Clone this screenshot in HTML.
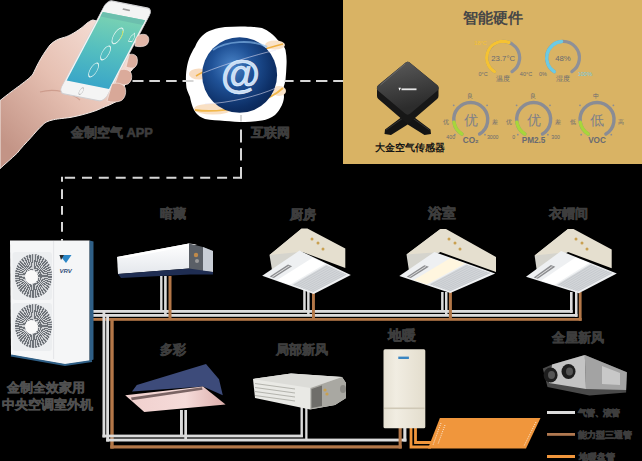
<!DOCTYPE html>
<html><head><meta charset="utf-8">
<style>
html,body{margin:0;padding:0;background:#000;width:642px;height:461px;overflow:hidden}
body{position:relative;font-family:"Liberation Sans",sans-serif}
svg{position:absolute;left:0;top:0}
.t{position:absolute;white-space:nowrap;font-weight:bold;color:#3d3d3d;line-height:1;-webkit-text-stroke:0.6px #3d3d3d}
.o{color:#505050;-webkit-text-stroke:0.45px #505050}
.fan{position:absolute;border-radius:50%;background:repeating-conic-gradient(from 0deg,#cfd1d4 0deg 3.5deg,#6e7379 3.5deg 8deg)}
.fan::after{content:"";position:absolute;left:44%;top:52%;width:13px;height:14px;margin:-7px 0 0 -6.5px;border-radius:50%;background:#f9f9f9}
</style></head>
<body>
<svg width="642" height="461" viewBox="0 0 642 461" xmlns="http://www.w3.org/2000/svg">
<defs>
  <linearGradient id="screen" x1="0" y1="0" x2="0" y2="1">
    <stop offset="0" stop-color="#7bd3b2"/><stop offset="0.5" stop-color="#55bfbf"/><stop offset="1" stop-color="#3aa6c8"/>
  </linearGradient>
  <linearGradient id="skin" x1="0.9" y1="0.1" x2="0.1" y2="0.9">
    <stop offset="0" stop-color="#f6e0d8"/><stop offset="0.5" stop-color="#e6c0b2"/><stop offset="1" stop-color="#c39486"/>
  </linearGradient>
  <radialGradient id="sphere" cx="0.4" cy="0.38" r="0.7">
    <stop offset="0" stop-color="#4a84c8"/><stop offset="0.4" stop-color="#1f5196"/><stop offset="0.8" stop-color="#0d2f66"/><stop offset="1" stop-color="#0a2452"/>
  </radialGradient>
  <linearGradient id="duct" x1="0" y1="0" x2="0" y2="1">
    <stop offset="0" stop-color="#ffffff"/><stop offset="1" stop-color="#e4e7ec"/>
  </linearGradient>
  <linearGradient id="cass" x1="0" y1="0" x2="1" y2="0.3">
    <stop offset="0" stop-color="#e9e9ea"/><stop offset="0.35" stop-color="#ffffff"/><stop offset="0.55" stop-color="#e2e4e7"/><stop offset="1" stop-color="#c4c8cd"/>
  </linearGradient>
  <linearGradient id="pink" x1="0" y1="0" x2="1" y2="0">
    <stop offset="0" stop-color="#f0cfcd"/><stop offset="0.6" stop-color="#f5dbd9"/><stop offset="1" stop-color="#dcaeab"/>
  </linearGradient>
  <linearGradient id="boiler" x1="0" y1="0" x2="1" y2="0">
    <stop offset="0" stop-color="#e6e1d3"/><stop offset="0.3" stop-color="#f1ede2"/><stop offset="1" stop-color="#e3ddcd"/>
  </linearGradient>
</defs>

<!-- tan panel -->
<rect x="343" y="0" width="299" height="164" fill="#d9b364"/>

<!-- hand -->
<path d="M0,100.6 C8,94 15,89 19.5,85.7 C27,80 31,77 33,74 C36,68 40,58 50,45 C54,41 58,39 62,38 C68,36.5 73,34 82,27.5 C87,23 90,20.5 93,20 L100,22 L120,50 L134.8,57.4 L136,65 L129.8,72.4 L131,79.9 L124.8,84.9 L122.3,89.9 L123.5,97.4 L117.3,101.1 L109.8,104.8 C104,107 99,109.5 94.8,111 C86,114 78,116 70,117.5 C62,118.5 56,119 52,120.1 C48,121 45,122.5 43.4,124.3 C38,129 35,133 31.2,137.3 C26,143 21,148 17.3,153 C11,159 5,164 0,168.6 Z" fill="url(#skin)" stroke="#f4ece8" stroke-width="1"/>
<path d="M40,92 C55,88 70,92 80,100" stroke="#c08878" stroke-width="1.2" fill="none" opacity="0.6"/>
<!-- phone -->
<g transform="matrix(0.455,0.091,-0.488,0.927,107.3,0)">
  <rect x="0" y="0" width="100" height="100" rx="11" ry="7" fill="#f4f4f4" stroke="#cfcfd2" stroke-width="1.2"/>
  <rect x="3.5" y="12.5" width="93" height="74" fill="url(#screen)"/>
  <rect x="3.5" y="12.5" width="93" height="5" fill="#6cbfae"/>
  <circle cx="43.5" cy="94" r="3.6" fill="none" stroke="#b8b8b8" stroke-width="1"/>
  <rect x="40" y="5" width="16" height="1.6" rx="0.8" fill="#9a9a9a"/>
  <circle cx="58" cy="33" r="8.5" fill="none" stroke="#eaf7f3" stroke-width="1.2"/>
  <circle cx="52" cy="52" r="7.5" fill="none" stroke="#eaf7f3" stroke-width="1.2"/>
  <circle cx="46" cy="71" r="7.5" fill="none" stroke="#eaf7f3" stroke-width="1.2"/>
  <path d="M63,27 A8.5,8.5 0 0 1 66,36" stroke="#c8e04a" stroke-width="1.4" fill="none"/>
  <path d="M85,31 l4,-4 l4,4 v5 h-8 z" fill="none" stroke="#eaf7f3" stroke-width="1"/>
</g>
<!-- fingers over phone right edge -->
<g stroke="#f3e7e2" stroke-width="0.7">
  <path d="M136,38 C138,34.5 143,33.5 146.5,35 C149.5,37 149.5,42 146.5,45 C143.5,47 139,47 135,46 Z" fill="#e2b7a8"/>
  <path d="M129,55 C131,53.5 135,54 136.8,57 C138,61 137.5,65 134.5,67.5 C132,68.5 129,68 126,67 Z" fill="#dcae9e"/>
  <path d="M120,70 C124,68.5 129,69.5 131,73 C132.5,77 131.5,81.5 128,84 C124,85.5 119,85 115,83.5 Z" fill="#dbab9b"/>
  <path d="M112,84 C117,82 123,83.5 125,87.5 C126.5,92 125.5,97.5 121.5,100.5 C117,102.5 111,102.5 107,101 Z" fill="#d8a898"/>
</g>
<!-- globe halo -->
<path d="M195,47 C197,42 199,39 202,36 C205,33 208,31 212,30 C217,28 221,27.5 225,27 C232,26.5 239,26.3 245,26.5 C252,26.8 258,27 262,28 C266,29.5 268,31 270,32.5 C274,35.5 277,39 280,42.5 C283,45 285,47.5 285.5,50 C286.5,55 286.8,60 286.5,65 C286.3,70 286,75 285.5,80 C285,83 284,85.5 283.5,88 C283.4,91 284,94 284,97 C283.8,100 283,102.5 282,105 C280,109 278,112 275,115 C271,118 267,119.5 262,120.5 C256,121.5 251,122 245,122 C238,122 231,121.5 225,121 C218,120.5 211,120 205,119 C201,117.5 198,115.5 196,113 C194,110.5 193,108 192,105 C191,102 190.5,99.5 190,97 C188.8,94 187.2,91 186.5,88 C186,84 185.8,79 186,75 C186.3,70 187,66 188,62 C188.8,59 189.8,56.5 191,54 C192.3,51.5 193.5,49 195,47 Z" fill="#ffffff"/>
<!-- swirl glows -->
<ellipse cx="199" cy="74" rx="10" ry="5.5" fill="#f8dcc0"/>
<ellipse cx="213" cy="109" rx="19" ry="5.5" fill="#f9e0c4"/>
<ellipse cx="275" cy="45" rx="10" ry="4.5" fill="#f9e2c8"/>
<ellipse cx="279" cy="91" rx="7" ry="5" fill="#f9e2c8"/>
<path d="M196,76 C212,66 258,50 283,44" stroke="#f0b040" stroke-width="1.6" fill="none"/>
<path d="M195,110 C222,114 266,104 283,88" stroke="#f2b84a" stroke-width="1.8" fill="none"/>
<ellipse cx="239.6" cy="75" rx="37.5" ry="37.8" fill="url(#sphere)"/>
<path d="M213,50 C226,41 252,39 267,47" stroke="#86b8ea" stroke-width="2" fill="none" opacity="0.65"/>
<path d="M203,73 C225,64 255,55 276,50" stroke="#e6e2f4" stroke-width="0.7" fill="none" opacity="0.8"/>
<path d="M205,104 C230,103 258,96 276,88" stroke="#e6e2f4" stroke-width="0.7" fill="none" opacity="0.8"/>
<text x="240.5" y="87.5" font-family="Liberation Sans" font-size="40" font-weight="bold" fill="#c8def5" text-anchor="middle" stroke="#e8f3ff" stroke-width="0.6">@</text>

<!-- dashed lines -->
<g fill="#d6d6d6">
  <path d="M132.5,80h11v2h-11zM149.3,80h10.6v2h-10.6zM166.1,80h10.6v2h-10.6zM182.5,80h11v2h-11z"/>
  <path d="M284.4,80h9.2v2h-9.2zM300.2,80h10.3v2h-10.3zM316,80h11.4v2h-11.4zM333.2,80h10v2h-10z"/>
  <path d="M240,115h2v6.4h-2zM240,129.5h2v13h-2zM240,148.2h2v12.2h-2zM240,166.9h2v11.4h-2z"/>
  <path d="M64.8,176.8h10.3v2h-10.3zM82,176.8h10v2h-10zM98.8,176.8h10v2h-10zM115.7,176.8h10v2h-10zM132.6,176.8h10v2h-10zM149.5,176.8h10v2h-10zM166.4,176.8h10v2h-10zM183.3,176.8h10v2h-10zM200.2,176.8h10v2h-10zM217.1,176.8h10v2h-10zM233,176.8h9v2h-9z"/>
  <path d="M61,176.8h2v5h-2zM61,189.2h2v9.7h-2zM61,206.1h2v8.6h-2zM61,222h2v9.8h-2zM61,239h2v1.7h-2z"/>
</g>

<!-- main pipes -->
<g>
  <rect x="91" y="310" width="481.6" height="2.8" fill="#dcdcdc"/>
  <rect x="91" y="314" width="486.5" height="2.8" fill="#dcdcdc"/>
  <rect x="91" y="318" width="490.6" height="2.8" fill="#b37748"/>
  <!-- drops row 1 -->
  <rect x="160.1" y="276" width="2.4" height="36" fill="#dcdcdc"/>
  <rect x="164.1" y="276" width="2.6" height="40" fill="#dcdcdc"/>
  <rect x="168.5" y="276" width="3" height="44" fill="#b37748"/>
  <rect x="303.2" y="290" width="2.5" height="22" fill="#dcdcdc"/>
  <rect x="307.1" y="290" width="2.5" height="26" fill="#dcdcdc"/>
  <rect x="312" y="290" width="2.9" height="30" fill="#b37748"/>
  <rect x="441.1" y="292" width="2.5" height="20" fill="#dcdcdc"/>
  <rect x="445" y="292" width="2.5" height="24" fill="#dcdcdc"/>
  <rect x="448.9" y="292" width="3" height="28" fill="#b37748"/>
  <rect x="570" y="292" width="2.6" height="20.8" fill="#dcdcdc"/>
  <rect x="575" y="292" width="2.5" height="24.8" fill="#dcdcdc"/>
  <rect x="578.8" y="292" width="2.8" height="28.8" fill="#b37748"/>
  <!-- down to row 2 -->
  <rect x="102.5" y="312" width="2.8" height="125.4" fill="#dcdcdc"/>
  <rect x="106.2" y="316" width="2.8" height="125.5" fill="#dcdcdc"/>
  <rect x="110.3" y="320" width="3.4" height="128.6" fill="#b37748"/>
  <!-- bottom horizontals -->
  <rect x="102.5" y="434.6" width="200.4" height="2.8" fill="#dcdcdc"/>
  <rect x="106.2" y="438.6" width="300.2" height="2.9" fill="#dcdcdc"/>
  <rect x="110.3" y="445.3" width="291.4" height="3.2" fill="#b37748"/>
  <rect x="180" y="410" width="2.9" height="27" fill="#dcdcdc"/>
  <rect x="184.3" y="410" width="2.7" height="31" fill="#dcdcdc"/>
  <rect x="300.5" y="405" width="2.4" height="32" fill="#dcdcdc"/>
  <rect x="305.2" y="405" width="2.3" height="36" fill="#dcdcdc"/>
  <rect x="398.6" y="426" width="3.1" height="22.5" fill="#b37748"/>
  <rect x="403.3" y="426" width="3.1" height="15.5" fill="#dcdcdc"/>
  <!-- orange floor heating pipes -->
  <path d="M411,426 V447 H431 M415.5,426 V442.5 H433" stroke="#f0963c" stroke-width="2.8" fill="none"/>
</g>

<!-- outdoor unit -->
<g>
  <polygon points="10,240.6 89.6,240.6 89.6,361 65,364.5 11,355" fill="#f5f6f7"/>
  <polygon points="89.6,240.6 93.5,241.5 93.5,359.5 89.6,361" fill="#2f5f86"/>
  <polyline points="11,355.5 65,365 92,361" stroke="#2f5f86" stroke-width="2" fill="none"/>
  <rect x="53.3" y="241" width="0.8" height="118" fill="#e0e2e4"/>
  <rect x="12.5" y="252" width="39.5" height="48" rx="3" fill="#eceef0"/>
  <rect x="12.5" y="303" width="39.5" height="48" rx="3" fill="#eceef0"/>
  <polygon points="59.5,255 71.5,255 66,263" fill="#2b86c6"/>
  <polygon points="59.5,255 64,255 61,260" fill="#2a2a2a"/>
  <text x="59.5" y="273" font-family="Liberation Sans" font-size="6" font-weight="bold" font-style="italic" fill="#33507a">VRV</text>
</g>

<!-- ducted unit (暗藏) -->
<g>
  <polygon points="117,257 189,243.5 189,268.5 118,274" fill="url(#duct)"/>
  <polygon points="117,257 189,243.5 197,244.5 126,258" fill="#ffffff"/>
  <polygon points="189,243.5 203,247 213,251 213,272 189,270" fill="#5a5f66"/>
  <polygon points="203,247 213,251 213,272 203,271" fill="#c9ced6"/>
  <circle cx="196" cy="255" r="2.2" fill="#c08a4a"/><circle cx="197" cy="261" r="2" fill="#9a9a9a"/>
  <polygon points="118,274 189,268.5 213,272 213,274.5 190,274.5 121,278" fill="#1f2d52"/>
</g>

<!-- cassettes -->
<polygon points="269.5,255 301.7,228.6 301.7,251.7 272,270" fill="#d5d4cd"/>
<polygon points="269.5,255 301.7,228.6 307.4,228.6 345.3,248.4 345.3,268.1 301.7,251.7" fill="#e5dfcf"/>
<polygon points="262.2,275.8 299.5,250.6 350.8,275 313.7,294" fill="#eef0f2"/>
<polygon points="276.8,280.2 312.6,257.7 325.4,263.7 289.7,284.8" fill="#ffffff"/>
<polygon points="292.4,284.7 326.2,264.9 346.8,274.6 313.0,292.1" fill="#d3d6d9"/>
<line x1="293.9" y1="285.3" x2="327.8" y2="265.6" stroke="#b9bdc2" stroke-width="0.5"/>
<line x1="296.2" y1="286.1" x2="330.1" y2="266.7" stroke="#b9bdc2" stroke-width="0.5"/>
<line x1="298.6" y1="286.9" x2="332.4" y2="267.8" stroke="#b9bdc2" stroke-width="0.5"/>
<line x1="300.9" y1="287.8" x2="334.7" y2="268.9" stroke="#b9bdc2" stroke-width="0.5"/>
<line x1="303.2" y1="288.6" x2="337.0" y2="270.0" stroke="#b9bdc2" stroke-width="0.5"/>
<line x1="305.5" y1="289.4" x2="339.3" y2="271.1" stroke="#b9bdc2" stroke-width="0.5"/>
<line x1="307.8" y1="290.3" x2="341.6" y2="272.1" stroke="#b9bdc2" stroke-width="0.5"/>
<line x1="310.1" y1="291.1" x2="343.9" y2="273.2" stroke="#b9bdc2" stroke-width="0.5"/>
<line x1="312.5" y1="291.9" x2="346.2" y2="274.3" stroke="#b9bdc2" stroke-width="0.5"/>
<polygon points="269.7,276.6 288.0,264.6 292.1,266.3 273.8,278.1" fill="#8c8d90"/>
<polygon points="272.0,276.6 288.8,265.7 289.8,266.1 273.0,277.0" fill="#e8e8e8"/>
<polygon points="406.5,254.6 440.4,228.9 440.4,252 409,271" fill="#d5d4cd"/>
<polygon points="406.5,254.6 440.4,228.9 446,228.9 496,257 496,272 440.4,252" fill="#e5dfcf"/>
<polygon points="399.3,276 434.4,252 495.2,273.4 450.3,293" fill="#eef0f2"/>
<polygon points="413.8,280.1 450.1,258.2 465.2,263.6 426.6,284.4" fill="#fff6df"/>
<polygon points="429.4,284.3 466.2,264.6 490.4,273.1 450.0,291.2" fill="#d3d6d9"/>
<line x1="430.9" y1="284.8" x2="468.0" y2="265.3" stroke="#b9bdc2" stroke-width="0.5"/>
<line x1="433.2" y1="285.6" x2="470.8" y2="266.2" stroke="#b9bdc2" stroke-width="0.5"/>
<line x1="435.6" y1="286.3" x2="473.5" y2="267.2" stroke="#b9bdc2" stroke-width="0.5"/>
<line x1="437.9" y1="287.1" x2="476.2" y2="268.1" stroke="#b9bdc2" stroke-width="0.5"/>
<line x1="440.2" y1="287.9" x2="478.9" y2="269.1" stroke="#b9bdc2" stroke-width="0.5"/>
<line x1="442.5" y1="288.7" x2="481.6" y2="270.0" stroke="#b9bdc2" stroke-width="0.5"/>
<line x1="444.8" y1="289.4" x2="484.3" y2="271.0" stroke="#b9bdc2" stroke-width="0.5"/>
<line x1="447.1" y1="290.2" x2="487.1" y2="272.0" stroke="#b9bdc2" stroke-width="0.5"/>
<line x1="449.5" y1="291.0" x2="489.8" y2="272.9" stroke="#b9bdc2" stroke-width="0.5"/>
<polygon points="406.7,276.7 424.4,265.2 428.9,266.7 410.8,278.1" fill="#8c8d90"/>
<polygon points="409.0,276.7 425.4,266.2 426.5,266.6 410.0,277.1" fill="#e8e8e8"/>
<polygon points="534.6,255.4 568,228.9 568,252 537,272" fill="#d5d4cd"/>
<polygon points="534.6,255.4 568,228.9 573.5,228.9 611.7,249.4 611.7,268.3 568,252" fill="#e5dfcf"/>
<polygon points="526,276.8 561.1,251.1 616.8,273.4 578.8,293.3" fill="#eef0f2"/>
<polygon points="541.0,280.8 575.4,257.6 589.3,263.1 554.2,284.9" fill="#ffffff"/>
<polygon points="556.9,284.7 590.3,264.3 612.5,273.1 578.1,291.5" fill="#d3d6d9"/>
<line x1="558.5" y1="285.3" x2="591.9" y2="264.9" stroke="#b9bdc2" stroke-width="0.5"/>
<line x1="560.8" y1="286.0" x2="594.4" y2="265.9" stroke="#b9bdc2" stroke-width="0.5"/>
<line x1="563.2" y1="286.8" x2="596.9" y2="266.9" stroke="#b9bdc2" stroke-width="0.5"/>
<line x1="565.6" y1="287.5" x2="599.4" y2="267.9" stroke="#b9bdc2" stroke-width="0.5"/>
<line x1="568.0" y1="288.3" x2="601.9" y2="268.9" stroke="#b9bdc2" stroke-width="0.5"/>
<line x1="570.4" y1="289.0" x2="604.4" y2="269.9" stroke="#b9bdc2" stroke-width="0.5"/>
<line x1="572.8" y1="289.8" x2="606.9" y2="270.9" stroke="#b9bdc2" stroke-width="0.5"/>
<line x1="575.1" y1="290.5" x2="609.4" y2="271.9" stroke="#b9bdc2" stroke-width="0.5"/>
<line x1="577.5" y1="291.3" x2="611.9" y2="272.9" stroke="#b9bdc2" stroke-width="0.5"/>
<polygon points="533.6,277.4 550.9,265.1 555.3,266.7 537.8,278.7" fill="#8c8d90"/>
<polygon points="535.9,277.4 551.9,266.2 552.9,266.6 536.9,277.7" fill="#e8e8e8"/>
<circle cx="312" cy="239" r="1.5" fill="#c9a050"/>
<circle cx="318" cy="243" r="1.5" fill="#c9a050"/>
<circle cx="323" cy="249" r="1.5" fill="#c9a050"/>
<circle cx="449" cy="239" r="1.5" fill="#c9a050"/>
<circle cx="455" cy="243" r="1.5" fill="#c9a050"/>
<circle cx="460" cy="249" r="1.5" fill="#c9a050"/>
<circle cx="576" cy="239" r="1.5" fill="#c9a050"/>
<circle cx="582" cy="243" r="1.5" fill="#c9a050"/>
<circle cx="587" cy="249" r="1.5" fill="#c9a050"/>
<!-- pink cassette (多彩) -->
<g>
  <polygon points="132,391.4 136.8,384.9 206,364 219,379.3 222.8,395.2 203,386.5" fill="#3d4b7a"/>
  <polygon points="125.2,395.2 203,386.5 225.6,404.5 144.3,412" fill="url(#pink)"/>
  <polygon points="131,397.5 202,387.2 202.5,389.8 131.8,400.3" fill="#7a6464"/>
</g>
<!-- ducted fresh air (局部新风) -->
<g>
  <polygon points="253,379 291,373.5 342,377 346,383 346,398 335,405 310,409.5 255,398" fill="#e9e9e5"/>
  <polygon points="253,379 291,373.5 342,377 310.4,387.9" fill="#dcdcd8"/>
  <polygon points="310.4,387.9 342,377 346,383 346,398 335,405 310.4,409.2" fill="#a9a8a2"/>
  <polygon points="311.5,389 322,385.5 322,406 311.5,408" fill="#6f6e6a"/>
  <g stroke="#b4b4ae" stroke-width="1.1"><line x1="255" y1="383.5" x2="295" y2="389"/><line x1="255" y1="387.5" x2="295" y2="393"/><line x1="255" y1="391.5" x2="295" y2="397"/><line x1="255" y1="395.5" x2="295" y2="401"/></g>
  <circle cx="325" cy="390" r="1.6" fill="#c9a050"/><circle cx="327" cy="394" r="1.6" fill="#c9a050"/>
  <ellipse cx="343" cy="389" rx="3" ry="4" fill="#8a8984"/>
</g>
<!-- boiler (地暖) -->
<g>
  <rect x="383.5" y="349.3" width="41.8" height="79" rx="1.5" fill="url(#boiler)"/>
  <rect x="384" y="407.5" width="40.5" height="1.6" fill="#cfc8b6"/>
  <rect x="398.3" y="356.6" width="10.6" height="2.4" fill="#3a86c2"/>
</g>
<!-- floor heating panel -->
<polygon points="439.9,418.1 540.5,418.1 526,448.6 428,448.6" fill="#f0963c"/>
<g stroke="#fff" stroke-width="0.8" stroke-dasharray="1 1.2" fill="none">
  <line x1="441" y1="423" x2="433" y2="445"/><line x1="445" y1="425" x2="438" y2="444"/>
  <line x1="536" y1="422" x2="524" y2="446"/>
</g>
<!-- ventilation unit (全屋新风) -->
<g>
  <polygon points="542.8,368.4 552.1,364.5 584.8,355.1 626.9,372.3 626.1,392.5 589.5,395.6 547.5,387.1" fill="#4a4a4a"/>
  <polygon points="552.1,364.5 584.8,355.1 586,389 549,383" fill="#c4c4c4"/>
  <polygon points="584.8,355.1 626.9,372.3 626.1,390 586,389" fill="#a3a3a3"/>
  <polygon points="602,366 620,373 620,385 602,384" fill="#c8c8c8"/>
  <ellipse cx="550.6" cy="375" rx="7" ry="7.5" fill="#1e1e1e"/>
  <ellipse cx="568.5" cy="371.5" rx="7" ry="7.5" fill="#1e1e1e"/>
  <ellipse cx="551.5" cy="375" rx="3.5" ry="4" fill="#555"/>
  <ellipse cx="569.5" cy="371.5" rx="3.5" ry="4" fill="#555"/>
</g>

<!-- legend lines -->
<rect x="547" y="411" width="28" height="3" fill="#dcdcdc"/>
<rect x="547" y="433" width="28" height="2.8" fill="#b07850"/>
<rect x="547" y="455" width="28" height="3" fill="#f0963c"/>

<!-- gauges -->
<g>
<path d="M494.5,71.7A16.4,16.4 0 1 1 512.1,71.6" stroke="#8e9098" stroke-width="3.3" fill="none" stroke-linecap="round"/>
<path d="M494.5,71.7A16.4,16.4 0 0 1 508.9,42.4" stroke="#f5c232" stroke-width="3.3" fill="none" stroke-linecap="round"/>
<path d="M554.3,71.7A16.4,16.4 0 1 1 571.9,71.6" stroke="#8e9098" stroke-width="3.3" fill="none" stroke-linecap="round"/>
<path d="M554.3,71.7A16.4,16.4 0 0 1 561.6,41.5" stroke="#6ccbe3" stroke-width="3.3" fill="none" stroke-linecap="round"/>
<path d="M461.9,134.0A17,17 0 1 1 479.6,134.0" stroke="#8a8c94" stroke-width="3.4" fill="none" stroke-linecap="round"/>
<path d="M461.9,134.0A17,17 0 0 1 453.9,122.1" stroke="#a8d63a" stroke-width="3.4" fill="none" stroke-linecap="round"/>
<circle cx="453.7" cy="105.3" r="0.9" fill="#8a8c94"/>
<circle cx="487.1" cy="105.3" r="0.9" fill="#8a8c94"/>
<circle cx="454.9" cy="134.7" r="0.9" fill="#8a8c94"/>
<circle cx="485.0" cy="134.7" r="0.9" fill="#8a8c94"/>
<path d="M524.8,134.0A17,17 0 1 1 542.5,134.0" stroke="#8a8c94" stroke-width="3.4" fill="none" stroke-linecap="round"/>
<path d="M524.8,134.0A17,17 0 0 1 516.8,122.1" stroke="#a8d63a" stroke-width="3.4" fill="none" stroke-linecap="round"/>
<circle cx="516.6" cy="105.3" r="0.9" fill="#8a8c94"/>
<circle cx="550.0" cy="105.3" r="0.9" fill="#8a8c94"/>
<circle cx="517.8" cy="134.7" r="0.9" fill="#8a8c94"/>
<circle cx="547.9" cy="134.7" r="0.9" fill="#8a8c94"/>
<path d="M588.2,134.0A17,17 0 1 1 605.9,134.0" stroke="#8a8c94" stroke-width="3.4" fill="none" stroke-linecap="round"/>
<path d="M588.2,134.0A17,17 0 0 1 580.2,122.1" stroke="#a8d63a" stroke-width="3.4" fill="none" stroke-linecap="round"/>
<circle cx="580.0" cy="105.3" r="0.9" fill="#8a8c94"/>
<circle cx="613.4" cy="105.3" r="0.9" fill="#8a8c94"/>
<circle cx="581.2" cy="134.7" r="0.9" fill="#8a8c94"/>
<circle cx="611.3" cy="134.7" r="0.9" fill="#8a8c94"/>
</g>
<g font-family="Liberation Sans,sans-serif"><text x="503.2" y="61" font-size="7.8" fill="#686a72" font-weight="normal" text-anchor="middle">23.7°C</text><text x="480.5" y="45" font-size="5.5" fill="#f5c232" font-weight="normal" text-anchor="middle">18°C</text><text x="483" y="76" font-size="5.5" fill="#686a72" font-weight="normal" text-anchor="middle">0°C</text><text x="526" y="76" font-size="5.5" fill="#686a72" font-weight="normal" text-anchor="middle">40°C</text><text x="503" y="80.5" font-size="6.5" fill="#686a72" font-weight="normal" text-anchor="middle">温度</text><text x="563" y="61" font-size="7.8" fill="#686a72" font-weight="normal" text-anchor="middle">48%</text><text x="543" y="76" font-size="5.5" fill="#686a72" font-weight="normal" text-anchor="middle">0%</text><text x="585" y="76" font-size="5.5" fill="#6ccbe3" font-weight="normal" text-anchor="middle">100%</text><text x="563" y="80.5" font-size="6.5" fill="#686a72" font-weight="normal" text-anchor="middle">湿度</text><text x="470.7" y="124.5" font-size="13.5" fill="#7e8088" font-weight="normal" text-anchor="middle">优</text><text x="469.7" y="97.5" font-size="5.5" fill="#686a72" font-weight="normal" text-anchor="middle">良</text><text x="446.2" y="124" font-size="5.5" fill="#686a72" font-weight="normal" text-anchor="middle">优</text><text x="494.7" y="124" font-size="5.5" fill="#686a72" font-weight="normal" text-anchor="middle">差</text><text x="450.7" y="138.8" font-size="5.2" fill="#686a72" font-weight="normal" text-anchor="middle">400</text><text x="492.7" y="138.8" font-size="5.2" fill="#686a72" font-weight="normal" text-anchor="middle">3000</text><text x="470.7" y="142.5" font-size="8.2" fill="#686a72" font-weight="bold" text-anchor="middle">CO₂</text><text x="533.6" y="124.5" font-size="13.5" fill="#7e8088" font-weight="normal" text-anchor="middle">优</text><text x="532.6" y="97.5" font-size="5.5" fill="#686a72" font-weight="normal" text-anchor="middle">良</text><text x="509.1" y="124" font-size="5.5" fill="#686a72" font-weight="normal" text-anchor="middle">优</text><text x="557.6" y="124" font-size="5.5" fill="#686a72" font-weight="normal" text-anchor="middle">差</text><text x="513.6" y="138.8" font-size="5.2" fill="#686a72" font-weight="normal" text-anchor="middle">0</text><text x="555.6" y="138.8" font-size="5.2" fill="#686a72" font-weight="normal" text-anchor="middle">300</text><text x="533.6" y="142.5" font-size="8.2" fill="#686a72" font-weight="bold" text-anchor="middle">PM2.5</text><text x="597.0" y="124.5" font-size="13.5" fill="#7e8088" font-weight="normal" text-anchor="middle">低</text><text x="596.0" y="97.5" font-size="5.5" fill="#686a72" font-weight="normal" text-anchor="middle">中</text><text x="572.5" y="124" font-size="5.5" fill="#686a72" font-weight="normal" text-anchor="middle">低</text><text x="621.0" y="124" font-size="5.5" fill="#686a72" font-weight="normal" text-anchor="middle">高</text><text x="597.0" y="142.5" font-size="8.2" fill="#686a72" font-weight="bold" text-anchor="middle">VOC</text></g>

<!-- sensor -->
<g>
  <polygon points="403,116 385,129.5 384.5,134 391,135 407.7,124.5 424.5,135 431,134 430.5,129.5 412.5,116" fill="#141414"/>
  <path d="M386,130 L403,118 M429.5,130 L412.5,118" stroke="#3a3a3a" stroke-width="0.8"/>
  <polygon points="381,88 407.7,66 434.5,88 434.5,96 407.7,119 381,96" fill="#171717" stroke="#171717" stroke-width="8" stroke-linejoin="round"/>
  <linearGradient id="sface" x1="0" y1="0" x2="0.3" y2="1"><stop offset="0" stop-color="#585858"/><stop offset="1" stop-color="#2c2c2c"/></linearGradient>
  <polygon points="381,88 407.7,66 434.5,88 407.7,110.5" fill="url(#sface)" stroke="url(#sface)" stroke-width="8" stroke-linejoin="round"/>
  <path d="M380.5,85 L405,64" stroke="#6e6e6e" stroke-width="0.8"/>
  <polygon points="398.5,87.8 401,87.8 399.5,90.8" fill="#ffffff"/>
  <rect x="401.5" y="88.4" width="15" height="1.8" fill="#e6e6e6"/>
</g>
</svg>
<div class="fan" style="left:14.7px;top:254.2px;width:37.2px;height:43.4px"></div>
<div class="fan" style="left:14.7px;top:304px;width:37.2px;height:43.6px"></div>

<!-- text labels -->
<div class="t" style="left:71px;top:127px;font-size:12.8px">金制空气 APP</div>
<div class="t" style="left:251px;top:125.5px;font-size:13px">互联网</div>
<div class="t" style="left:463px;top:9.5px;font-size:15px;color:#474747;font-weight:bold;-webkit-text-stroke:0">智能硬件</div>
<div class="t" style="left:375px;top:143px;font-size:9.6px;color:#151515;-webkit-text-stroke:0">大金空气传感器</div>
<div class="t" style="left:159.5px;top:207px;font-size:13.3px">暗藏</div>
<div class="t" style="left:290px;top:207.5px;font-size:13px">厨房</div>
<div class="t" style="left:428px;top:207px;font-size:13.5px">浴室</div>
<div class="t" style="left:549px;top:207px;font-size:13.2px">衣帽间</div>
<div class="t" style="left:159.5px;top:343px;font-size:13.3px">多彩</div>
<div class="t" style="left:276px;top:343px;font-size:13.4px">局部新风</div>
<div class="t" style="left:388px;top:328.5px;font-size:13.5px">地暖</div>
<div class="t" style="left:552px;top:331px;font-size:13.3px">全屋新风</div>
<div class="t o" style="left:7px;top:380.5px;font-size:13.3px">金制全效家用</div>
<div class="t o" style="left:2px;top:397.5px;font-size:13px">中央空调室外机</div>
<div class="t" style="left:578px;top:408.5px;font-size:8.6px;letter-spacing:-0.7px">气管、液管</div>
<div class="t" style="left:578px;top:430.5px;font-size:9.3px">能力型三通管</div>
<div class="t" style="left:578.5px;top:452px;font-size:9.4px">地暖盘管</div>
</body></html>
